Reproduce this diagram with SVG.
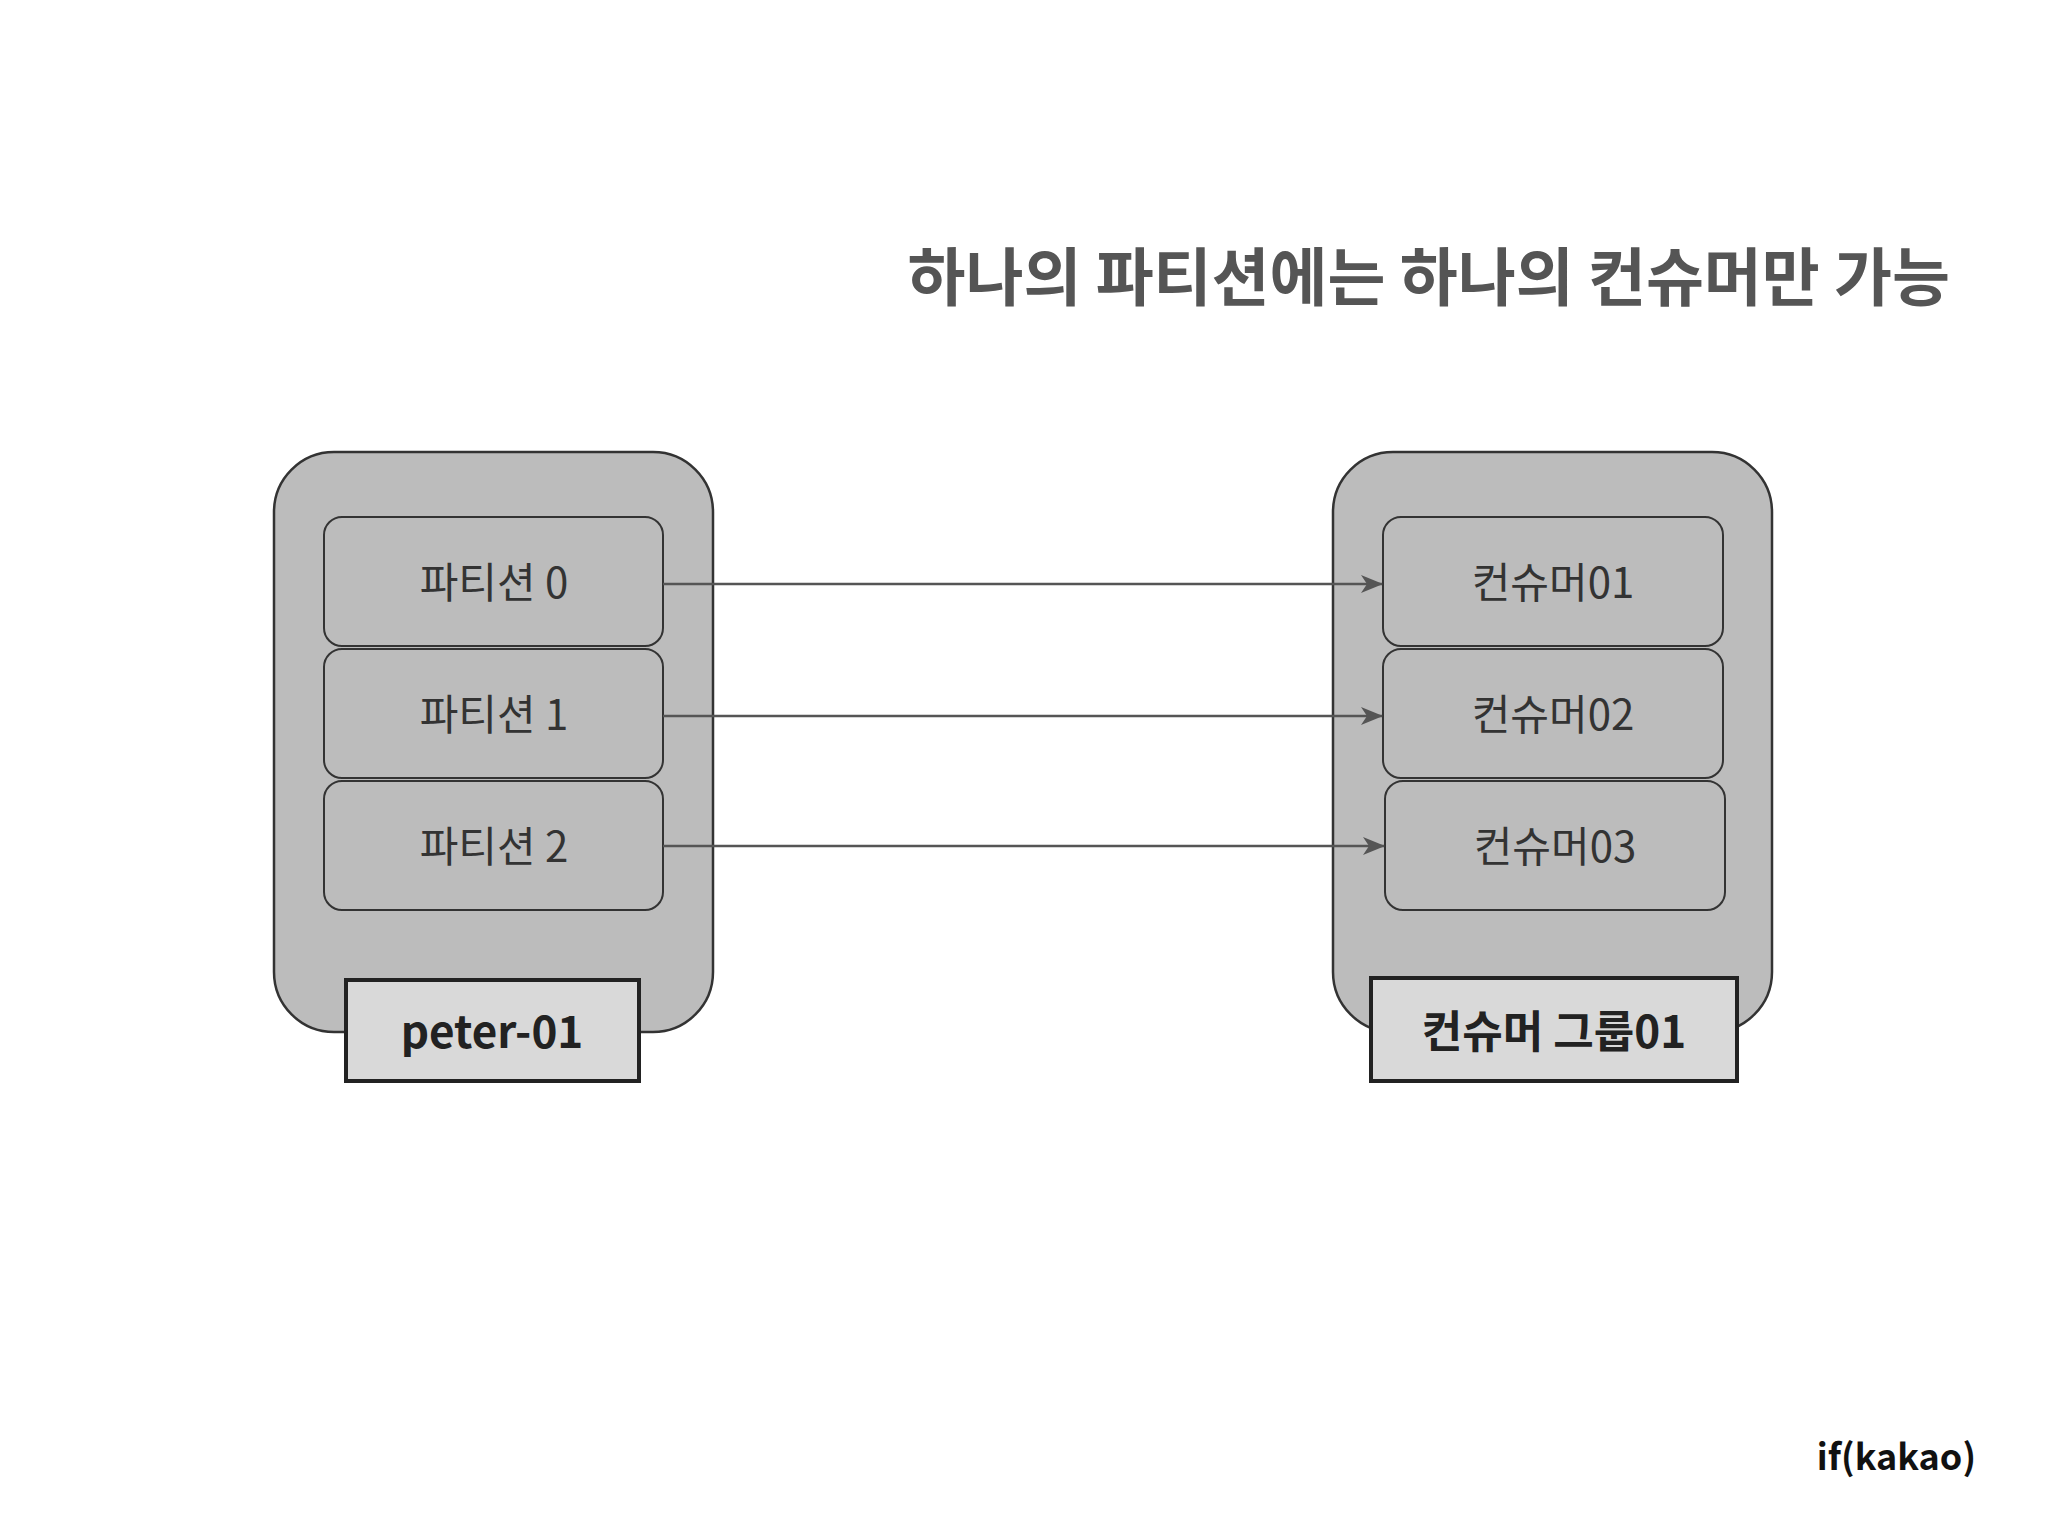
<svg xmlns="http://www.w3.org/2000/svg" width="2048" height="1536" viewBox="0 0 2048 1536">
<style>
.cont{fill:#bcbcbc;stroke:#333;stroke-width:2.5}
.box{fill:#bcbcbc;stroke:#333;stroke-width:2}
.lab{fill:#d9d9d9;stroke:#222;stroke-width:4}
.t{font-family:"Noto Sans CJK KR","Noto Sans",sans-serif;font-size:42px;fill:#333;text-anchor:middle}
.lt{font-family:"Noto Sans CJK KR","Liberation Sans",sans-serif;font-size:44px;font-weight:bold;fill:#222;text-anchor:middle}
.c{stroke:#555;stroke-width:2.5;fill:none;marker-end:url(#a)}
</style>
<defs><marker id="a" markerWidth="22" markerHeight="18" refX="21" refY="9" orient="auto" markerUnits="userSpaceOnUse"><path d="M0,0 L22,9 L0,18 L6,9 Z" fill="#555"/></marker></defs>
<rect width="2048" height="1536" fill="#fff"/>
<text x="1950" y="300" font-family="Noto Sans CJK KR,sans-serif" font-size="63" font-weight="bold" fill="#555" text-anchor="end">하나의 파티션에는 하나의 컨슈머만 가능</text>
<g id="left"><rect class="cont" x="274" y="452" width="439" height="580" rx="60"/></g>
<g id="right"><rect class="cont" x="1333" y="452" width="439" height="580" rx="60"/></g>
<g id="p0"><rect class="box" x="324" y="517" width="339" height="129" rx="18"/><text class="t" x="494" y="598">파티션 0</text></g>
<g id="p1"><rect class="box" x="324" y="649" width="339" height="129" rx="18"/><text class="t" x="494" y="730">파티션 1</text></g>
<g id="p2"><rect class="box" x="324" y="781" width="339" height="129" rx="18"/><text class="t" x="494" y="862">파티션 2</text></g>
<g id="c1"><rect class="box" x="1383" y="517" width="340" height="129" rx="18"/><text class="t" x="1553" y="598">컨슈머01</text></g>
<g id="c2"><rect class="box" x="1383" y="649" width="340" height="129" rx="18"/><text class="t" x="1553" y="730">컨슈머02</text></g>
<g id="c3"><rect class="box" x="1385" y="781" width="340" height="129" rx="18"/><text class="t" x="1555" y="862">컨슈머03</text></g>
<g id="lbl1"><rect class="lab" x="346" y="980" width="293" height="101"/><text class="lt" x="492" y="1048">peter-01</text></g>
<g id="lbl2"><rect class="lab" x="1371" y="978" width="366" height="103"/><text class="lt" x="1554" y="1048">컨슈머 그룹01</text></g>
<g id="connectors">
<line class="c" x1="663" y1="584" x2="1382" y2="584"/>
<line class="c" x1="663" y1="716" x2="1382" y2="716"/>
<line class="c" x1="663" y1="846" x2="1384" y2="846"/>
</g>
<text x="1976" y="1470" font-family="Noto Sans CJK KR,sans-serif" font-size="36" font-weight="bold" fill="#111" text-anchor="end">if(kakao)</text>
</svg>
